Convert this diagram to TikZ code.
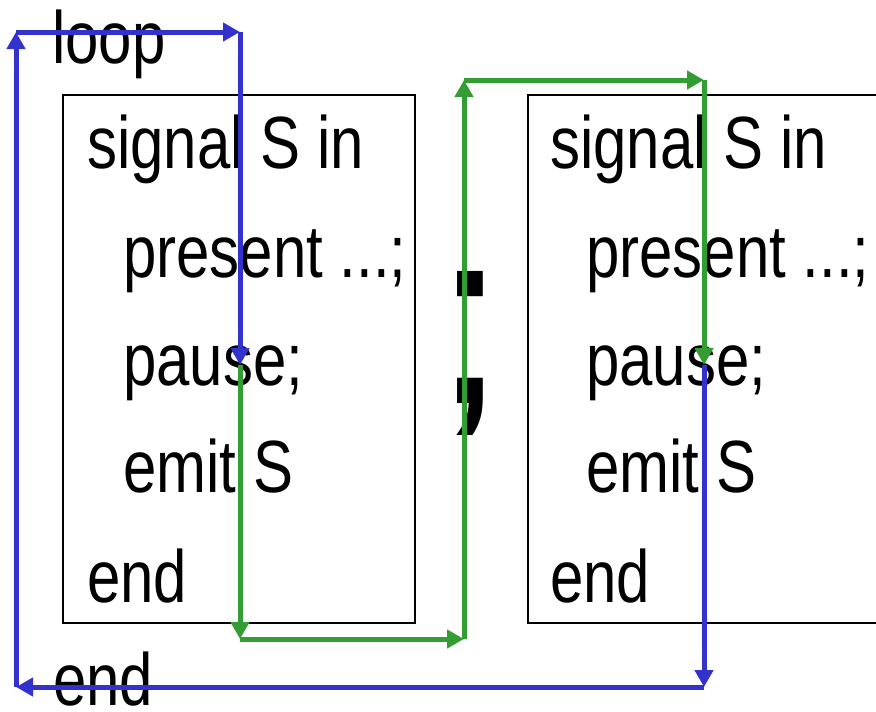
\documentclass[tikz,border=0pt]{standalone}
\usepackage{fontspec}
\usepackage{graphicx}
\setmainfont{Liberation Sans}
\usetikzlibrary{arrows.meta}

\definecolor{flowblue}{RGB}{51,51,204}
\definecolor{flowgreen}{RGB}{51,156,51}

\tikzset{
  code/.style={anchor=base west, inner sep=0pt, font=\fontsize{74}{74}\selectfont},
  stmtbox/.style={draw=black, line width=1.3pt, minimum width=352pt, minimum height=528pt, inner sep=0pt},
  flow/.style={line width=5pt, -{Triangle[length=17pt 0, width=18pt 0]}},
  blueflow/.style={flow, draw=flowblue, fill=flowblue},
  greenflow/.style={flow, draw=flowgreen, fill=flowgreen},
}

\newcommand{\narrow}[1]{\scalebox{0.81}[1]{#1}}

\begin{document}
\begin{tikzpicture}[x=1pt, y=-1pt]
  \useasboundingbox (0,0) rectangle (876,712);
  \clip (0,0) rectangle (876,712);

  % the two signal blocks
  \node[stmtbox] (lbox) at (239,359) {};
  \node[stmtbox] (rbox) at (704,359) {};

  % outer loop keywords
  \node[code] (loopkw) at (52,63) {\narrow{loop}};
  \node[code] (endkw) at (53,705) {\narrow{end}};

  % first block
  \node[code] (ls1) at (87,168) {\narrow{signal S in}};
  \node[code] (ls2) at (123,277) {\narrow{present ...;}};
  \node[code] (ls3) at (123,385) {\narrow{pause;}};
  \node[code] (ls4) at (123,492) {\narrow{emit S}};
  \node[code] (ls5) at (87,602) {\narrow{end}};

  % second block
  \node[code] (rs1) at (550,168) {\narrow{signal S in}};
  \node[code] (rs2) at (586,277) {\narrow{present ...;}};
  \node[code] (rs3) at (586,385) {\narrow{pause;}};
  \node[code] (rs4) at (586,492) {\narrow{emit S}};
  \node[code] (rs5) at (550,602) {\narrow{end}};

  % sequencing semicolon between the blocks
  \node[anchor=base west, inner sep=0pt, font=\fontsize{250}{250}\selectfont]
    (seq) at (432,403) {\scalebox{1.08}[1]{;}};

  % corner points of the control-flow paths
  \coordinate (lpause) at (240,365);
  \coordinate (rpause) at (704,365);
  \coordinate (gdown) at (240,639);
  \coordinate (gright) at (464,639);
  \coordinate (gup) at (464,80);
  \coordinate (gtop) at (704,80);
  \coordinate (bdown) at (704,687);
  \coordinate (bleft) at (16,687);
  \coordinate (bup) at (16,32);
  \coordinate (btop) at (240,32);

  % green: from the pause of the first block into the second block
  \draw[greenflow] (lpause) -- (gdown);
  \draw[greenflow] (gdown) -- (gright);
  \draw[greenflow] (gright) -- (gup);
  \draw[greenflow] (gup) -- (gtop);
  \draw[greenflow] (gtop) -- (rpause);

  % blue: from the pause of the second block back round the loop
  \draw[blueflow] (rpause) -- (bdown);
  \draw[blueflow] (bdown) -- (bleft);
  \draw[blueflow] (bleft) -- (bup);
  \draw[blueflow] (bup) -- (btop);
  \draw[blueflow] (btop) -- (lpause);
\end{tikzpicture}
\end{document}
